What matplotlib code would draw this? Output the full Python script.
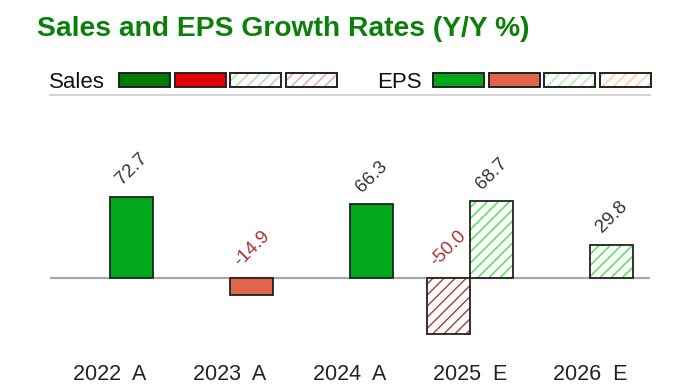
import numpy as np
import matplotlib.pyplot as plt
from matplotlib.patches import Rectangle

plt.rcParams['font.family'] = ['Liberation Sans', 'DejaVu Sans']
plt.rcParams['hatch.linewidth'] = 1.0

years = ['2022  A', '2023  A', '2024  A', '2025  E', '2026  E']
is_estimate = [False, False, False, True, True]
sales_growth = [np.nan, np.nan, np.nan, -50.0, np.nan]
eps_growth = [72.7, -14.9, 66.3, 68.7, 29.8]

# bar colours: (actual positive, actual negative, estimate positive, estimate negative)
sales_colors = ['#007a00', '#e00000', '#3ee03e', '#a33c3c']
eps_colors = ['#00a81a', '#e0654a', '#3ee63e', '#ffa860']
# legend swatches look lighter for the hatched ones
sales_legend = ['#007a00', '#e00000', '#a6dca6', '#e0a4a4']
eps_legend = ['#00a81a', '#e0654a', '#a8f0a8', '#ffcc99']

W, H = 700, 387
fig = plt.figure(figsize=(W / 100, H / 100), dpi=100)

ax = fig.add_axes([50 / W, 1 - 350 / H, 600 / W, 250 / H])
ax.set_xlim(-0.5, 4.5)
ax.set_ylim(-64.3, 158.9)
ax.axhline(0, color='#a8a8a8', lw=1.6, zorder=1)

x = np.arange(len(years))
w = 0.36


def draw_bars(offset, values, colors):
    for xi, v, est in zip(x, values, is_estimate):
        if np.isnan(v):
            continue
        c = colors[(2 if est else 0) + (1 if v < 0 else 0)]
        if est:
            ax.bar(xi + offset, v, w, color='white', edgecolor=c, hatch='///',
                   lw=0, zorder=2)
            ax.bar(xi + offset, v, w, fill=False, edgecolor='#222222',
                   lw=1.3, zorder=3)
        else:
            ax.bar(xi + offset, v, w, color=c, edgecolor='#222222',
                   lw=1.3, zorder=3)
        top = max(v, 0)
        ax.annotate(f'{v:.1f}', (xi + offset, top), xytext=(0, 6),
                    textcoords='offset points', ha='center', va='bottom',
                    rotation=45, fontsize=13.5,
                    color='#a83232' if v < 0 else '#333333')


draw_bars(-w / 2, sales_growth, sales_colors)
draw_bars(w / 2, eps_growth, eps_colors)

ax.set_xticks(x, years)
ax.tick_params(axis='x', length=0, pad=10, labelsize=15.5, labelcolor='#222222')
ax.set_yticks([])
for s in ax.spines.values():
    s.set_visible(False)

# header: title, legend row and separator line, in pixel coordinates
lax = fig.add_axes([0, 0, 1, 1])
lax.set_xlim(0, W)
lax.set_ylim(H, 0)
lax.axis('off')

fig.text(37 / W, 1 - 36 / H, 'Sales and EPS Growth Rates (Y/Y %)',
         fontsize=20.3, fontweight='bold', color='#0a800a', va='baseline')
fig.text(49 / W, 1 - 88 / H, 'Sales', fontsize=16, color='#111111', va='baseline')
fig.text(377 / W, 1 - 88 / H, 'EPS', fontsize=16, color='#111111', va='baseline')


def swatches(x0, colors):
    for i, c in enumerate(colors):
        xs = x0 + i * 55.7
        if i < 2:
            lax.add_patch(Rectangle((xs, 73), 51, 14, facecolor=c,
                                    edgecolor='#222222', lw=1.4))
        else:
            lax.add_patch(Rectangle((xs, 73), 51, 14, facecolor='white',
                                    edgecolor=c, hatch='///', lw=0))
            lax.add_patch(Rectangle((xs, 73), 51, 14, fill=False,
                                    edgecolor='#222222', lw=1.4))


swatches(119, sales_legend)
swatches(433, eps_legend)
lax.plot([50, 650], [95, 95], color='#d4d4d4', lw=1.5)

fig.savefig('out.png', dpi=100)
